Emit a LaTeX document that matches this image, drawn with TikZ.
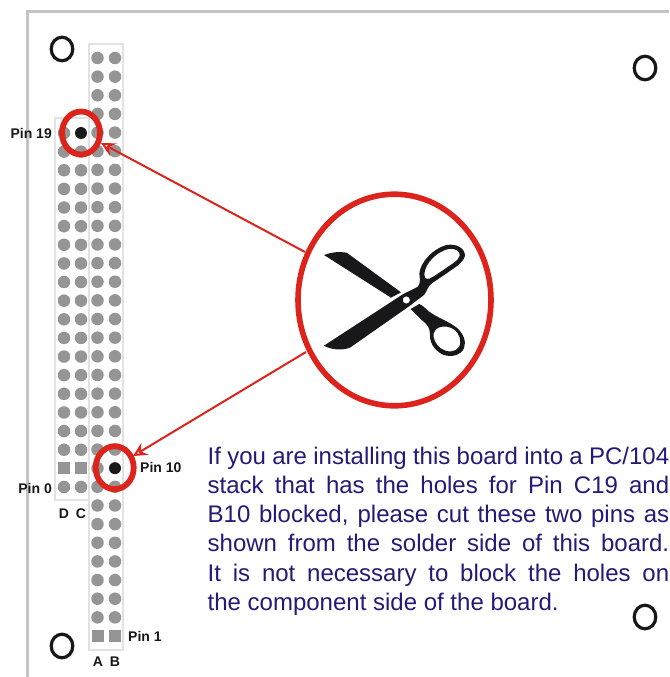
\documentclass[tikz,border=0pt]{standalone}
\usepackage{fontspec}
\setmainfont{Liberation Sans}
\usetikzlibrary{arrows.meta,shapes.geometric}
\definecolor{framegray}{HTML}{C4C4C4}
\definecolor{railgray}{HTML}{E2E2E2}
\definecolor{pingray}{HTML}{959595}
\definecolor{pinblack}{HTML}{18181A}
\definecolor{cutred}{HTML}{DC241C}
\definecolor{textblue}{HTML}{241A78}
\tikzset{
  x=1pt,y=-1pt,
  pinround/.style={circle,fill=pingray,inner sep=0,minimum size=12.5pt},
  pinsquare/.style={rectangle,fill=pingray,inner sep=0,minimum size=12pt},
  pincut/.style={circle,fill=pinblack,inner sep=0,minimum size=12pt},
  railbox/.style={draw=railgray,line width=2pt},
  hole/.style={draw=pinblack,line width=3.2pt},
  cutring/.style={draw=cutred,line width=5.8pt,ellipse,inner sep=0,minimum width=38pt,minimum height=43pt},
  cutarrow/.style={draw=cutred,line width=2pt,-{Stealth[length=14pt,width=14pt,open,fill=white,inset=5pt]}},
  pinlabel/.style={font=\bfseries\fontsize{14}{16}\selectfont,text=pinblack,inner sep=0},
}
\begin{document}
\begin{tikzpicture}
\useasboundingbox (0,0) rectangle (669,677);
\fill[white] (0,0) rectangle (669,677);
\draw[draw=framegray,line width=3pt] (27,677) -- (27,12) -- (669,12);
% rails
\draw[railbox] (55,118) rectangle (89,500);
\draw[railbox] (89,44) rectangle (123,650);
% pins D C
\foreach \r in {0,...,19}{
  \pgfmathsetmacro{\yy}{133+18.63*\r}
  \ifnum\r=18
    \node[pinsquare] (d\r) at (64,\yy) {};
    \node[pinsquare] (c\r) at (81,\yy) {};
  \else
    \node[pinround] (d\r) at (64,\yy) {};
    \ifnum\r=0
      \node[pincut] (c\r) at (81,\yy) {};
    \else
      \node[pinround] (c\r) at (81,\yy) {};
    \fi
  \fi
}
% pins A B
\foreach \r in {0,...,31}{
  \pgfmathsetmacro{\yy}{58+18.645*\r}
  \ifnum\r=31
    \node[pinsquare] (a\r) at (97.5,\yy) {};
    \node[pinsquare] (b\r) at (115,\yy) {};
  \else
    \node[pinround] (a\r) at (97.5,\yy) {};
    \ifnum\r=22
      \node[pincut] (b\r) at (115,\yy) {};
    \else
      \node[pinround] (b\r) at (115,\yy) {};
    \fi
  \fi
}
% mounting holes
\draw[hole] (62,49) ellipse (10.8 and 11.8);
\draw[hole] (645,68) ellipse (10.8 and 11.8);
\draw[hole] (645,617) ellipse (10.8 and 11.8);
\draw[hole] (62,646) ellipse (10.8 and 11.8);
% rings
\node[cutring] (ringc) at (81,133) {};
\node[cutring] (ringb) at (114.7,467.7) {};
% big ellipse
\draw[draw=cutred,line width=5.6pt] (394.5,300) ellipse (96.5 and 105.8);
\coordinate (e1) at (305,252);
\coordinate (e2) at (306,352);
\coordinate (t1) at (101,143);
\coordinate (t2) at (133,456);
\draw[cutarrow] (e1) -- (t1);
\draw[cutarrow] (e2) -- (t2);
% scissors
\begin{scope}[shift={(290,185)},x=0.3333pt,y=-0.3333pt]
\fill[pinblack] (102,210) .. controls (130,200) and (150,200) .. (170,203) -- (333,322) -- (303,338) -- cycle;
\fill[pinblack,even odd rule]
  (102,482) -- (340,327) -- (382,306) .. controls (392,298) and (390,285) .. (388,265)
  .. controls (392,230) and (430,190) .. (470,180) .. controls (500,175) and (525,190) .. (525,212)
  .. controls (520,235) and (490,250) .. (470,265) -- (430,292) .. controls (410,305) and (412,320) .. (402,330)
  -- (360,362) -- (180,488) .. controls (155,497) and (125,495) .. (102,482) -- cycle
  (403,268) .. controls (405,235) and (440,200) .. (475,192) .. controls (497,188) and (512,200) .. (509,213)
  .. controls (505,228) and (480,240) .. (460,255) -- (430,275) .. controls (415,285) and (403,285) .. (403,268) -- cycle
  (349,345) circle[x radius=11,y radius=11];
\fill[pinblack,even odd rule]
  (362,372) -- (388,357) .. controls (400,362) and (405,370) .. (415,378)
  .. controls (440,398) and (470,405) .. (500,428) .. controls (520,445) and (530,470) .. (522,490)
  .. controls (512,510) and (490,516) .. (470,512) .. controls (445,508) and (418,480) .. (420,450)
  .. controls (420,430) and (415,420) .. (395,405) -- cycle
  (431,445) .. controls (435,425) and (465,418) .. (490,432) .. controls (510,445) and (515,470) .. (508,485)
  .. controls (498,503) and (470,503) .. (452,490) .. controls (437,478) and (428,460) .. (431,445) -- cycle;
\end{scope}
% labels
\node[pinlabel,anchor=east] (lp19) at (52,133) {Pin 19};
\node[pinlabel,anchor=west] (lp10) at (140,467.7) {Pin 10};
\node[pinlabel,anchor=east] (lp0) at (52,488.5) {Pin 0};
\node[pinlabel,anchor=west] (lp1) at (128,636) {Pin 1};
\node[pinlabel,anchor=center] (ld) at (64,514) {D};
\node[pinlabel,anchor=center] (lc) at (81,514) {C};
\node[pinlabel,anchor=center] (la) at (98,662) {A};
\node[pinlabel,anchor=center] (lb) at (115,662) {B};
% text
\node[anchor=north west,inner sep=0,text width=461.5pt,align=justify,text=textblue,
  font=\fontsize{24}{29.3}\selectfont] (note) at (207.5,446.5) {%
  \parfillskip=0pt
  If you are installing this board into a PC/104\par
  stack that has the holes for Pin C19 and\par
  B10 blocked, please cut these two pins as\par
  shown from the solder side of this board.\par
  It is not necessary to block the holes on\par
  \parfillskip=0pt plus 1fil
  the component side of the board.};
\end{tikzpicture}
\end{document}
